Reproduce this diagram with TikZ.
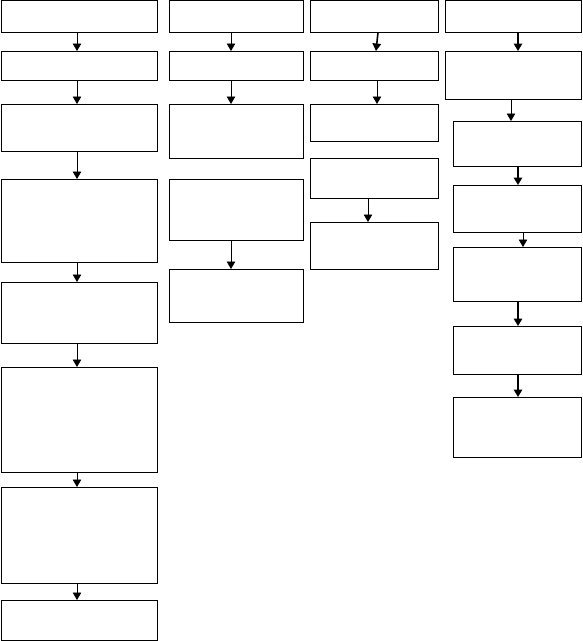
\documentclass[tikz,border=0pt]{standalone}
\usepackage{tikz}
\usetikzlibrary{arrows.meta}

\begin{document}
\begin{tikzpicture}[x=1pt, y=-1pt,
  stagebox/.style={rectangle, draw=black, fill=white, line width=0.9pt,
    inner sep=0pt, outer sep=0pt},
  colA/.style={stagebox, minimum width=156pt},
  colB/.style={stagebox, minimum width=134pt},
  colC/.style={stagebox, minimum width=128pt},
  colD/.style={stagebox, minimum width=128pt},
  arr/.style={-{Triangle[length=7.5pt, width=8.5pt]}, line width=0.8pt},
  thickarr/.style={-{Triangle[length=7.5pt, width=8.5pt]}, line width=1.6pt}
]
  \useasboundingbox (0,0) rectangle (582,641);

  % first column
  \node[colA, minimum height=32pt]  (a1) at (79, 16.5)  {};
  \node[colA, minimum height=29pt]  (a2) at (79, 65.5)  {};
  \node[colA, minimum height=47pt]  (a3) at (79, 127.5) {};
  \node[colA, minimum height=83pt]  (a4) at (79, 220.5) {};
  \node[colA, minimum height=61pt]  (a5) at (79, 312.5) {};
  \node[colA, minimum height=105pt] (a6) at (79, 419.5) {};
  \node[colA, minimum height=96pt]  (a7) at (79, 535)   {};
  \node[colA, minimum height=40pt]  (a8) at (79, 620)   {};

  % second column
  \node[colB, minimum height=32pt] (b1) at (236, 16.5)  {};
  \node[colB, minimum height=29pt] (b2) at (236, 65.5)  {};
  \node[colB, minimum height=54pt] (b3) at (236, 131)   {};
  \node[colB, minimum height=61pt] (b4) at (236, 209.5) {};
  \node[colB, minimum height=53pt] (b5) at (236, 295.5) {};

  % third column
  \node[colC, minimum height=32pt] (c1) at (374, 16.5)  {};
  \node[colC, minimum height=29pt] (c2) at (374, 65.5)  {};
  \node[colC, minimum height=37pt] (c3) at (374, 122.5) {};
  \node[colC, minimum height=40pt] (c4) at (374, 178)   {};
  \node[colC, minimum height=47pt] (c5) at (374, 245.5) {};

  % fourth column
  \node[stagebox, minimum width=136pt, minimum height=32pt] (d1) at (513, 16.5) {};
  \node[stagebox, minimum width=136pt, minimum height=48pt] (d2) at (513, 75)   {};
  \node[colD, minimum height=45pt] (d3) at (517, 143.5) {};
  \node[colD, minimum height=47pt] (d4) at (517, 208.5) {};
  \node[colD, minimum height=54pt] (d5) at (517, 274)   {};
  \node[colD, minimum height=48pt] (d6) at (517, 350)   {};
  \node[colD, minimum height=60pt] (d7) at (517, 427)   {};

  \draw[arr] ([xshift=-2pt]a1.south) -- ([xshift=-2pt]a2.north);
  \draw[arr] ([xshift=-2pt]a2.south) -- ([xshift=-2pt]a3.north);
  \draw[arr] ([xshift=-2pt]a3.south) -- ([xshift=-2pt]a4.north);
  \draw[arr] ([xshift=-2pt]a4.south) -- ([xshift=-2pt]a5.north);
  \draw[arr] ([xshift=-2pt]a5.south) -- ([xshift=-2pt]a6.north);
  \draw[arr] ([xshift=-2pt]a6.south) -- ([xshift=-2pt]a7.north);
  \draw[arr] ([xshift=-2pt]a7.south) -- ([xshift=-2pt]a8.north);

  \draw[arr] ([xshift=-5pt]b1.south) -- ([xshift=-5pt]b2.north);
  \draw[arr] ([xshift=-5pt]b2.south) -- ([xshift=-5pt]b3.north);
  \draw[arr] ([xshift=-5pt]b4.south) -- ([xshift=-5pt]b5.north);

  \draw[thickarr] ([xshift=4pt]c1.south) -- ([xshift=2pt]c2.north);
  \draw[arr] ([xshift=3pt]c2.south) -- ([xshift=3pt]c3.north);
  \draw[arr] ([xshift=-6pt]c4.south) -- ([xshift=-6pt]c5.north);

  \draw[thickarr] ([xshift=5pt]d1.south) -- ([xshift=5pt]d2.north);
  \draw[arr] ([xshift=-2pt]d2.south) -- ([xshift=-6pt]d3.north);
  \draw[thickarr] ([xshift=1pt]d3.south) -- ([xshift=1pt]d4.north);
  \draw[arr] ([xshift=6pt]d4.south) -- ([xshift=6pt]d5.north);
  \draw[thickarr] ([xshift=1pt]d5.south) -- ([xshift=1pt]d6.north);
  \draw[thickarr] ([xshift=1pt]d6.south) -- ([xshift=1pt]d7.north);
\end{tikzpicture}
\end{document}
